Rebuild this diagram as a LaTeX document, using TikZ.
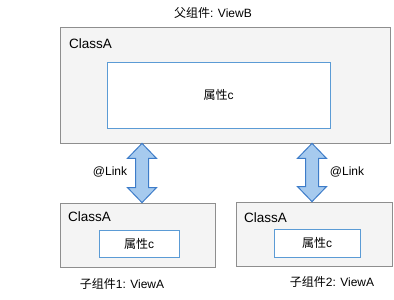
\documentclass[tikz,border=0pt]{standalone}
\usepackage{fontspec}
\setmainfont{Liberation Sans}
\newfontfamily\cjk{Noto Sans CJK SC}
\usetikzlibrary{positioning,calc}
\definecolor{boxgray}{HTML}{F4F4F4}
\definecolor{linegray}{HTML}{8E8E8E}
\definecolor{propblue}{HTML}{5B9BD5}
\definecolor{linkfill}{HTML}{A6CAEE}
\definecolor{linkdraw}{HTML}{3D7CC9}
\newcommand{\shuxing}{{\cjk 属性}c}

\begin{document}
\begin{tikzpicture}[
    x=1pt, y=-1pt,
    comp/.style={draw=linegray, fill=boxgray, line width=0.8pt, inner sep=0pt},
    prop/.style={draw=propblue, fill=white, line width=0.8pt, inner sep=0pt, font=\fontsize{12}{14}\selectfont},
    cls/.style={inner sep=0pt, anchor=west, font=\fontsize{13.5}{16}\selectfont},
    lbl/.style={inner sep=0pt, font=\fontsize{12}{14}\selectfont},
    fatarrow/.style={draw=linkdraw, fill=linkfill, line width=1pt, line join=miter}
  ]
    \useasboundingbox (0,0) rectangle (394,300);
    % parent component
    \node[comp, minimum width=330pt, minimum height=116pt] (parent) at (225,85) {};
    \node[cls] (pcls) at (69,44) {ClassA};
    \node[prop, minimum width=223pt, minimum height=66pt] (pprop) at (218.5,95) {\shuxing};
    \node[lbl] (ptitle) at (213,13) {{\cjk 父组件}: ViewB};
    % child components
    \node[comp, minimum width=155pt, minimum height=64pt] (childa) at (137.5,235) {};
    \node[cls] (acls) at (68,217) {ClassA};
    \node[prop, minimum width=80pt, minimum height=27pt] (aprop) at (139,243.5) {\shuxing};
    \node[lbl] (atitle) at (122,284) {{\cjk 子组件}1: ViewA};
    \node[comp, minimum width=156pt, minimum height=64pt] (childb) at (314,234) {};
    \node[cls] (bcls) at (244,218) {ClassA};
    \node[prop, minimum width=86pt, minimum height=28pt] (bprop) at (317,243) {\shuxing};
    \node[lbl] (btitle) at (332,282) {{\cjk 子组件}2: ViewA};
    % @Link arrows
    \coordinate (la) at (142,0);
    \coordinate (lb) at (312,0);
    \foreach \c/\child in {la/childa, lb/childb}{
      \path let \p1=(\c |- parent.south), \p2=(\c |- \child.north) in
        [fatarrow] (\x1,\y1) -- (\x1+14.5pt,\y1-15pt) -- (\x1+6.5pt,\y1-15pt)
        -- (\x1+6.5pt,\y2+15pt) -- (\x1+14.5pt,\y2+15pt) -- (\x1,\y2)
        -- (\x1-14.5pt,\y2+15pt) -- (\x1-6.5pt,\y2+15pt) -- (\x1-6.5pt,\y1-15pt)
        -- (\x1-14.5pt,\y1-15pt) -- cycle;
    }
    \node[lbl] (linka) at (110,172) {@Link};
    \node[lbl] (linkb) at (347,172) {@Link};
  \end{tikzpicture}
\end{document}
